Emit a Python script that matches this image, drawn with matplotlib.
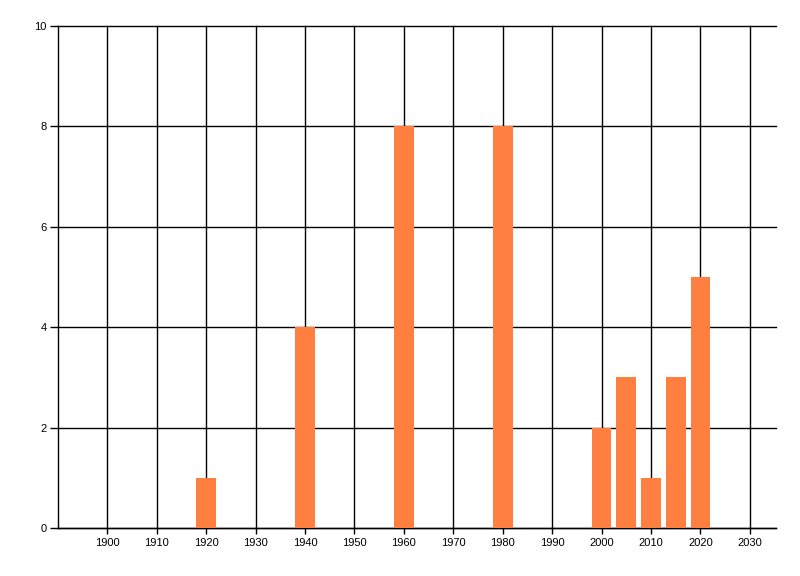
import matplotlib
matplotlib.use("Agg")
import matplotlib.pyplot as plt

years = [1920, 1940, 1960, 1980, 2000, 2005, 2010, 2015, 2020]
counts = [1, 4, 8, 8, 2, 3, 1, 3, 5]
x_ticks = list(range(1900, 2031, 10))
y_ticks = [0, 2, 4, 6, 8, 10]

plt.rcParams['font.family'] = ['Liberation Sans', 'DejaVu Sans']
fig = plt.figure(figsize=(8, 5.76), dpi=100)
ax = fig.add_axes([58/800, 1-528/576, (776-58)/800, (528-26)/576])

ax.bar(years, counts, width=4, color='#FF7F40', zorder=3)
ax.set_xlim(1890, 2035.3)
ax.set_ylim(0, 10)
ax.set_xticks(x_ticks)
ax.set_yticks(y_ticks)
ax.grid(True, color='black', linewidth=1, zorder=1)
ax.set_axisbelow(True)
for s in ['top', 'right']:
    ax.spines[s].set_visible(False)
for s in ['left', 'bottom']:
    ax.spines[s].set_linewidth(1)
    ax.spines[s].set_color('black')
ax.tick_params(axis='y', length=6, width=1, pad=2, labelsize=8)
ax.tick_params(axis='x', length=4, width=1, pad=3, labelsize=8)
for gl in ax.get_ygridlines() + ax.get_xgridlines():
    gl.set_clip_on(False)

fig.savefig('out.png', dpi=100)
